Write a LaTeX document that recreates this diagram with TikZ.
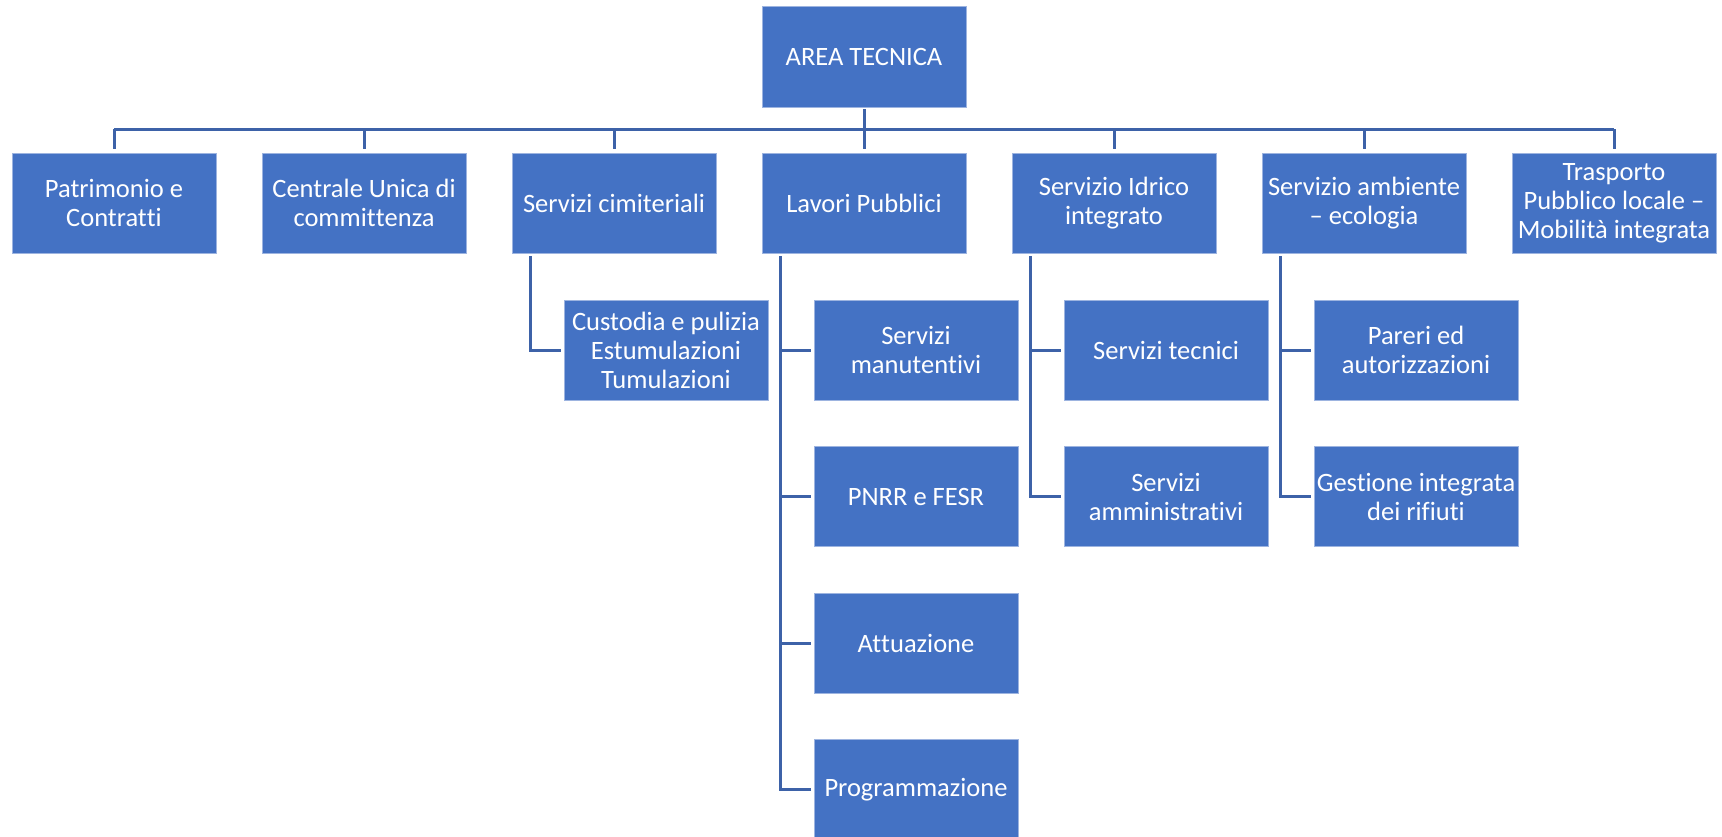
\documentclass[tikz,border=0pt]{standalone}
\usepackage{fontspec}
\setmainfont{Carlito}[Ligatures={NoCommon,NoRare,NoContextual},RawFeature={-calt}]
\definecolor{boxblue}{HTML}{4472C4}
\definecolor{edgeblue}{HTML}{9DB4E0}
\definecolor{lineblue}{HTML}{3D62A8}
\begin{document}
\begin{tikzpicture}[x=1pt,y=-1pt,
  unit/.style={rectangle, fill=boxblue, draw=edgeblue, line width=0.8pt,
    minimum width=204pt, minimum height=100pt, inner sep=0pt,
    text=white, align=center, font=\fontsize{26.5}{29}\selectfont},
  conn/.style={draw=lineblue, line width=3pt}]
\useasboundingbox (0,0) rectangle (1722,836);
% top
\node[unit, minimum height=101pt] (area) at (864,56.5) {AREA TECNICA};
% level 1
\node[unit] (pat) at (114,203) {Patrimonio e\\Contrat\kern0ptt\kern0pti};
\node[unit] (cuc) at (364,203) {Centrale Unica di\\commit\kern0ptt\kern0ptenza};
\node[unit] (cim) at (614,203) {Servizi cimiteriali};
\node[unit] (lav) at (864,203) {Lavori Pubblici};
\node[unit] (idr) at (1114,203) {Servizio Idrico\\integrato};
\node[unit] (amb) at (1364,203) {Servizio ambiente\\– ecologia};
\node[unit] (tra) at (1614,203) {Trasporto\\Pubblico locale –\\Mobilità integrata};
% level 2
\node[unit] (cus) at (666,350) {Custodia e pulizia\\Estumulazioni\\Tumulazioni};
\node[unit] (man) at (916,350) {Servizi\\manuten\kern0ptt\kern0ptivi};
\node[unit] (pnr) at (916,496.5) {PNRR e FESR};
\node[unit] (att) at (916,643) {At\kern0ptt\kern0ptuazione};
\node[unit] (pro) at (916,789.5) {Programmazione};
\node[unit] (tec) at (1166,350) {Servizi tecnici};
\node[unit] (amm) at (1166,496.5) {Servizi\\amministrat\kern0ptivi};
\node[unit] (par) at (1416,350) {Pareri ed\\autorizzazioni};
\node[unit] (ges) at (1416,496.5) {Gestione integrata\\dei rif\kern0ptiut\kern0pti};
% connectors level 0 -> 1
\coordinate (bus) at (864,129);
\draw[conn] ([yshift=-2pt]area.south) -- (bus);
\draw[conn] (pat.north |- bus) -- (tra.north |- bus);
\foreach \n in {pat,cuc,cim,lav,idr,amb,tra}
  \draw[conn] (\n.north |- bus) -- ([yshift=4pt]\n.north);
% connectors level 1 -> 2
\draw[conn] ([xshift=19pt,yshift=-3pt]cim.south west) |- ([xshift=-3pt]cus.west);
\foreach \c in {man,pnr,att,pro}
  \draw[conn] ([xshift=19pt,yshift=-3pt]lav.south west) |- ([xshift=-3pt]\c.west);
\foreach \c in {tec,amm}
  \draw[conn] ([xshift=19pt,yshift=-3pt]idr.south west) |- ([xshift=-3pt]\c.west);
\foreach \c in {par,ges}
  \draw[conn] ([xshift=19pt,yshift=-3pt]amb.south west) |- ([xshift=-3pt]\c.west);
\end{tikzpicture}
\end{document}
